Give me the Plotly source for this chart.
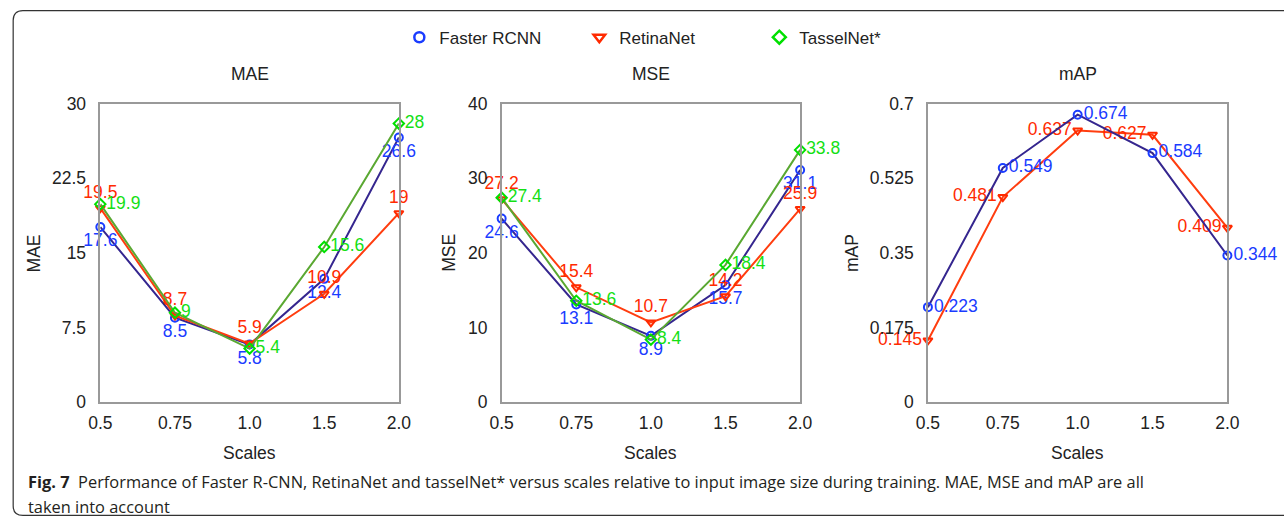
import plotly.graph_objects as go

W, H = 1284, 527

scales = ["0.5", "0.75", "1.0", "1.5", "2.0"]

mae_faster = [17.6, 8.5, 5.8, 12.4, 26.6]
mae_retina = [19.5, 8.7, 5.9, 10.9, 19]
mae_tassel = [19.9, 9, 5.4, 15.6, 28]

mse_faster = [24.6, 13.1, 8.9, 15.7, 31.1]
mse_retina = [27.2, 15.4, 10.7, 14.2, 25.9]
mse_tassel = [27.4, 13.6, 8.4, 18.4, 33.8]

map_faster = [0.223, 0.549, 0.674, 0.584, 0.344]
map_retina = [0.145, 0.481, 0.637, 0.627, 0.409]

mae_ticks = [0, 7.5, 15, 22.5, 30]
mse_ticks = [0, 10, 20, 30, 40]
map_ticks = [0, 0.175, 0.35, 0.525, 0.7]
mae_ticktext = ["0", "7.5", "15", "22.5", "30"]
mse_ticktext = ["0", "10", "20", "30", "40"]
map_ticktext = ["0", "0.175", "0.35", "0.525", "0.7"]

series_names = ["Faster RCNN", "RetinaNet", "TasselNet*"]

FONT = "Liberation Sans, Arial, Helvetica, sans-serif"
TXT = "#222222"

style = {
    "Faster RCNN": dict(line="#35268f", marker="#1a3cff", symbol="circle-open", text="#1a3cff"),
    "RetinaNet": dict(line="#ff3d0f", marker="#ff2a00", symbol="triangle-down-open", text="#ff2a00"),
    "TasselNet*": dict(line="#5aa832", marker="#00e000", symbol="diamond-open", text="#14e014"),
}

# the photographed page shows the paper slightly inset/scaled; map target pixels to paper fractions
AX, BX, AY, BY = 0.983, 11.5, 0.963, 9.3


def px(t):
    return ((t - BX) / AX) / W


def py(t):
    return 1 - ((t - BY) / AY) / H


panels = [
    dict(name="MAE", xdom=(100, 399), ytitle_x=33,
         series=[("Faster RCNN", mae_faster, "bottom center"),
                 ("RetinaNet", mae_retina, "top center"),
                 ("TasselNet*", mae_tassel, "middle right")],
         rng=[0, 30], ticks=mae_ticks, ticktext=mae_ticktext),
    dict(name="MSE", xdom=(502, 801), ytitle_x=449,
         series=[("Faster RCNN", mse_faster, "bottom center"),
                 ("RetinaNet", mse_retina, "top center"),
                 ("TasselNet*", mse_tassel, "middle right")],
         rng=[0, 40], ticks=mse_ticks, ticktext=mse_ticktext),
    dict(name="mAP", xdom=(929, 1229), ytitle_x=853,
         series=[("RetinaNet", map_retina, "middle left"),
                 ("Faster RCNN", map_faster, "middle right")],
         rng=[0, 0.7], ticks=map_ticks, ticktext=map_ticktext),
]

PT, PB = 103, 402
FS = 17.5

fig = go.Figure()
layout = dict(
    width=W, height=H, autosize=False,
    margin=dict(l=0, r=0, t=0, b=0),
    paper_bgcolor="white", plot_bgcolor="white",
    font=dict(family=FONT, size=16, color=TXT),
    showlegend=True,
    legend=dict(orientation="h", x=px(399.5), xanchor="left", y=py(37), yanchor="middle",
                font=dict(size=17, color=TXT), itemwidth=30, bgcolor="rgba(0,0,0,0)",
                entrywidth=135, entrywidthmode="pixels"),
)

annotations = []
for i, p in enumerate(panels):
    ax = "" if i == 0 else str(i + 1)
    xa, ya = "x" + ax, "y" + ax
    for name, vals, pos in p["series"]:
        st = style[name]
        fig.add_trace(go.Scatter(
            x=scales, y=vals, mode="lines+markers+text",
            text=[f"{v:g}" for v in vals], textposition=pos,
            textfont=dict(family=FONT, size=FS, color=st["text"]),
            line=dict(color=st["line"], width=2),
            marker=dict(symbol=st["symbol"], size=8, color=st["marker"], line=dict(width=2, color=st["marker"])),
            cliponaxis=False, showlegend=False, xaxis=xa, yaxis=ya, name=name,
        ))
    layout["xaxis" + ax] = dict(
        domain=[px(p["xdom"][0]), px(p["xdom"][1])], anchor=ya,
        type="category", range=[0, 4], showgrid=False, zeroline=False,
        showline=True, mirror=True, linecolor="#999999", linewidth=1.5,
        ticks="", tickfont=dict(family=FONT, size=FS, color=TXT), ticklabelstandoff=4,
    )
    layout["yaxis" + ax] = dict(
        domain=[py(PB), py(PT)], anchor=xa,
        range=p["rng"], tickvals=p["ticks"], ticktext=p["ticktext"], showgrid=False, zeroline=False,
        showline=True, mirror=True, linecolor="#999999", linewidth=1.5,
        ticks="", tickfont=dict(family=FONT, size=FS, color=TXT), ticklabelstandoff=9,
    )
    cx = (p["xdom"][0] + p["xdom"][1]) / 2
    annotations.append(dict(text=p["name"], x=px(cx), y=py(73), xref="paper", yref="paper",
                            showarrow=False, xanchor="center", yanchor="middle",
                            font=dict(family=FONT, size=FS, color=TXT)))
    annotations.append(dict(text="Scales", x=px(cx), y=py(453), xref="paper", yref="paper",
                            showarrow=False, xanchor="center", yanchor="middle",
                            font=dict(family=FONT, size=FS, color=TXT)))
    annotations.append(dict(text=p["name"], x=px(p["ytitle_x"]), y=py((PT + PB) / 2),
                            xref="paper", yref="paper", textangle=-90,
                            showarrow=False, xanchor="center", yanchor="middle",
                            font=dict(family=FONT, size=FS, color=TXT)))

# legend-only traces
for name in series_names:
    st = style[name]
    fig.add_trace(go.Scatter(
        x=[None], y=[None], mode="markers", name=name,
        marker=dict(symbol=st["symbol"], size=10, color=st["marker"], line=dict(width=2.5, color=st["marker"])),
        showlegend=True,
    ))

CAP = "Open Sans, Noto Sans, sans-serif"
annotations.append(dict(
    text="<b>Fig. 7</b>  Performance of Faster R-CNN, RetinaNet and tasselNet* versus scales relative to input image size during training. MAE, MSE and mAP are all",
    x=px(26), y=py(481), xref="paper", yref="paper", showarrow=False, xanchor="left", yanchor="middle",
    font=dict(family=CAP, size=16.4, color="#231f20")))
annotations.append(dict(
    text="taken into account",
    x=px(26), y=py(506), xref="paper", yref="paper", showarrow=False, xanchor="left", yanchor="middle",
    font=dict(family=CAP, size=16.4, color="#231f20")))

layout["annotations"] = annotations

# rounded frame border (left/bottom kept just inside the paper)
r = 10 / W
rv = 10 / H
x0, y0, x1, y1 = 1.2 / W, py(10), 1.02, 1.6 / H
path = (f"M {x1},{y0} L {x0 + r},{y0} Q {x0},{y0} {x0},{y0 - rv} "
        f"L {x0},{y1 + rv} Q {x0},{y1} {x0 + r},{y1} L {x1},{y1}")
layout["shapes"] = [dict(type="path", path=path, xref="paper", yref="paper",
                         line=dict(color="#333333", width=1.2))]

fig.update_layout(**layout)
fig.write_html("out.html")
